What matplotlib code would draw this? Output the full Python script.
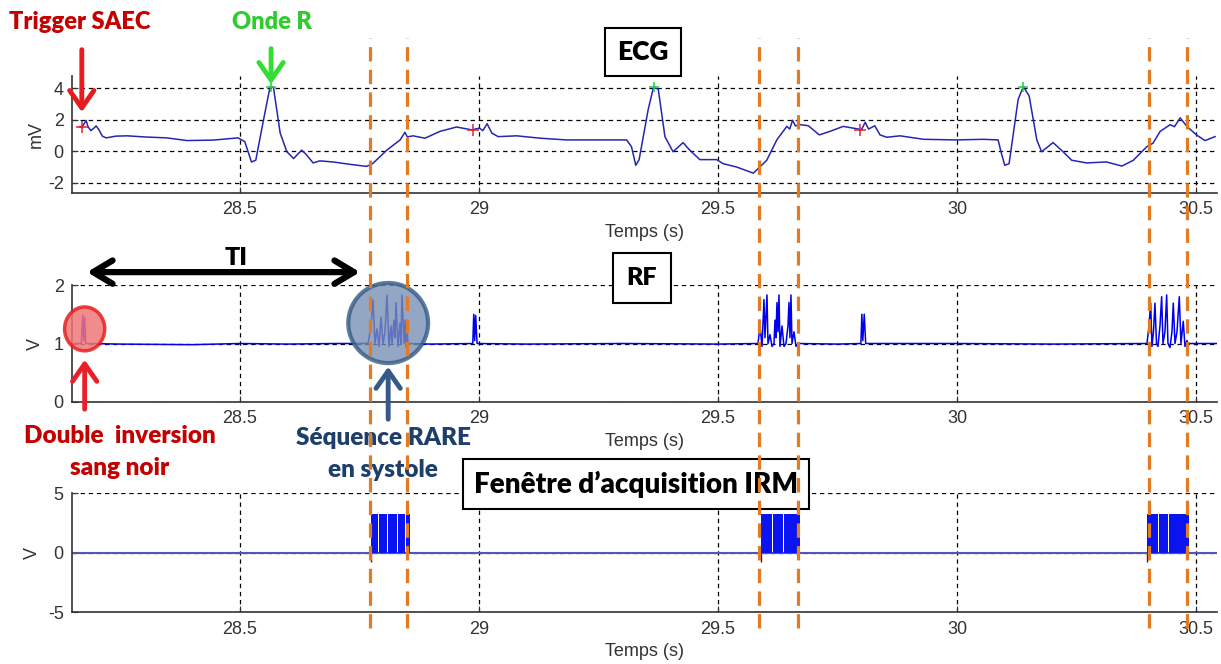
import matplotlib
matplotlib.use("Agg")
import matplotlib.pyplot as plt
from matplotlib.lines import Line2D
from matplotlib.patches import Ellipse
from matplotlib.transforms import blended_transform_factory

plt.rcParams['font.family'] = ['Liberation Sans', 'DejaVu Sans']
plt.rcParams['axes.unicode_minus'] = False

# --- données ---
x_ticks = [28.5, 29, 29.5, 30, 30.5]
x_lim = (28.1485, 30.544)

# ECG (s, mV)
ecg_t = [28.165, 28.169, 28.174, 28.178, 28.182, 28.188, 28.194, 28.199, 28.205, 28.212,
         28.220, 28.240, 28.264, 28.300, 28.347, 28.389, 28.444, 28.496, 28.510, 28.524,
         28.533, 28.548, 28.563, 28.570, 28.584, 28.598, 28.612, 28.629, 28.638, 28.653,
         28.667, 28.695, 28.730, 28.765, 28.778, 28.807, 28.835, 28.840, 28.845, 28.850,
         28.862, 28.887, 28.918, 28.953, 28.985, 29.001, 29.008, 29.017, 29.027, 29.040,
         29.079, 29.128, 29.183, 29.253, 29.309, 29.319, 29.328, 29.335, 29.354, 29.365,
         29.375, 29.389, 29.406, 29.427, 29.441, 29.462, 29.497, 29.511, 29.539, 29.574,
         29.602, 29.623, 29.644, 29.650, 29.656, 29.662, 29.672, 29.689, 29.712, 29.734,
         29.762, 29.794, 29.800, 29.808, 29.815, 29.828, 29.839, 29.853, 29.881, 29.930,
         29.999, 30.055, 30.086, 30.093, 30.100, 30.109, 30.128, 30.139, 30.151, 30.167,
         30.177, 30.201, 30.222, 30.240, 30.271, 30.313, 30.345, 30.369, 30.397, 30.410,
         30.425, 30.446, 30.455, 30.467, 30.481, 30.501, 30.519, 30.540]
ecg_mv = [1.55, 1.50, 1.75, 1.95, 1.55, 1.30, 1.45, 1.60, 1.35, 0.95,
          0.84, 0.95, 0.97, 0.90, 0.84, 0.67, 0.70, 0.84, 0.60, -0.69,
          -0.58, 1.80, 4.10, 4.04, 1.15, -0.04, -0.47, 0.06, -0.20, -0.75,
          -0.62, -0.69, -0.84, -0.97, -0.78, 0.06, 0.71, 0.95, 1.20, 0.90,
          0.97, 0.82, 1.25, 1.53, 1.35, 1.46, 1.30, 1.74, 1.14, 0.92,
          0.97, 0.82, 0.71, 0.71, 0.71, 0.28, -0.90, -0.54, 2.65, 4.04,
          3.94, 0.92, -0.04, 0.54, 0.06, -0.54, -0.54, -0.80, -1.01, -1.40,
          -0.58, 0.71, 1.57, 1.40, 1.96, 1.60, 1.68, 1.61, 1.03, 1.25,
          1.57, 1.40, 1.35, 1.83, 1.40, 1.61, 1.03, 0.88, 0.97, 0.75,
          0.71, 0.75, 0.71, -0.15, -0.90, -0.80, 3.29, 4.10, 3.50, 0.71,
          -0.04, 0.54, -0.04, -0.58, -0.75, -0.69, -0.95, -0.58, 0.28, 0.50,
          1.25, 1.68, 1.55, 2.11, 1.57, 1.03, 0.67, 0.92]

trig_t = [28.169, 28.987, 29.797]
trig_mv = [1.50, 1.35, 1.37]
r_t = [28.565, 29.366, 30.139]
r_mv = [4.08, 4.04, 4.10]

# RF (s, V)
rf_t = [28.150, 28.168, 28.171, 28.173, 28.175, 28.177, 28.179, 28.25, 28.40, 28.50, 28.60, 28.70,
        28.7678, 28.7741, 28.7782, 28.7824, 28.7866, 28.7908, 28.7950, 28.7992, 28.8033, 28.8075,
        28.8117, 28.8159, 28.8180, 28.8222, 28.8243, 28.8264, 28.8305, 28.8347, 28.8368, 28.8389,
        28.8431, 28.8452, 28.8473, 28.8494, 28.8515,
        28.90, 28.987, 28.989, 28.991, 28.993, 28.996, 29.10, 29.30, 29.50,
        29.5837, 29.5879, 29.5921, 29.5962, 29.5983, 29.6025, 29.6046, 29.6088, 29.6130, 29.6172,
        29.6192, 29.6213, 29.6234, 29.6255, 29.6276, 29.6297, 29.6339, 29.6381, 29.6423, 29.6464,
        29.6485, 29.6506, 29.6527, 29.6548, 29.6590, 29.6632, 29.6674,
        29.75, 29.799, 29.801, 29.803, 29.806, 29.809, 30.00, 30.20,
        30.3975, 30.4017, 30.4052, 30.4079, 30.4111, 30.4142, 30.4174, 30.4205, 30.4247, 30.4282,
        30.4310, 30.4351, 30.4387, 30.4414, 30.4456, 30.4498, 30.4525, 30.4561, 30.4603, 30.4651,
        30.4686, 30.4734, 30.4770, 30.4812, 30.4833, 30.544]
rf_v = [1.00, 1.00, 1.49, 1.05, 1.45, 1.00, 1.00, 0.99, 0.98, 1.00, 0.99, 1.00,
        1.00, 1.30, 1.75, 1.00, 1.25, 0.95, 1.45, 1.00, 1.20, 1.83,
        0.95, 1.30, 1.00, 1.40, 1.10, 1.70, 0.95, 1.35, 1.00, 1.83,
        1.00, 1.40, 0.95, 1.25, 1.00,
        0.99, 1.00, 1.50, 1.05, 1.48, 1.00, 0.99, 1.00, 0.99,
        1.00, 1.30, 0.95, 1.75, 1.10, 1.83, 1.00, 1.15, 0.95, 1.00,
        1.40, 1.10, 1.70, 1.20, 1.83, 0.95, 1.30, 0.95, 1.00, 1.30,
        1.70, 1.10, 1.83, 1.00, 1.20, 0.95, 1.00,
        0.99, 1.00, 1.50, 1.05, 1.50, 1.00, 1.00, 0.99,
        1.00, 1.30, 1.69, 0.95, 1.20, 1.69, 1.00, 0.95, 1.30, 1.80,
        1.00, 1.20, 1.83, 1.00, 0.93, 1.20, 1.69, 1.00, 1.20, 1.80,
        1.00, 1.38, 0.95, 1.05, 1.00, 1.00]

# fenêtre d'acquisition : créneaux à 3.3 V (début, fin)
gate_on = [28.774, 28.790, 28.809, 28.830, 28.847,
           29.590, 29.615, 29.638, 29.649, 29.657,
           30.3975, 30.4226, 30.4435, 30.4644]
gate_off = [28.789, 28.808, 28.829, 28.846, 28.856,
            29.614, 29.637, 29.648, 29.656, 29.672,
            30.4215, 30.4425, 30.4635, 30.4854]
gate_level = 3.3
gate_starts = [28.774, 29.590, 30.3975]

# repères orange (début / fin de séquence)
marks_t = [28.772, 28.849, 29.585, 29.667, 30.401, 30.481]

# --- figure ---
W, H = 1221, 664
fig = plt.figure(figsize=(W / 100, H / 100), dpi=100)


def pos(left, top, right, bottom):
    return [left / W, 1 - bottom / H, (right - left) / W, (bottom - top) / H]


ax1 = fig.add_axes(pos(72, 76, 1217, 193))
ax2 = fig.add_axes(pos(72, 285, 1217, 402))
ax3 = fig.add_axes(pos(72, 493.3, 1217, 612.3))

for ax in (ax1, ax2, ax3):
    ax.set_xlim(*x_lim)
    ax.set_xticks(x_ticks)
    ax.set_xticklabels(['28.5', '29', '29.5', '30', '30.5'])
    ax.spines['top'].set_visible(False)
    ax.spines['right'].set_visible(False)
    for s in ('left', 'bottom'):
        ax.spines[s].set_color('#333333')
        ax.spines[s].set_linewidth(1.2)
    ax.tick_params(direction='in', length=4, labelsize=13, colors='#333333', pad=6)
    ax.grid(True, color='black', linestyle=(0, (3.5, 3)), linewidth=0.9)
    ax.set_xlabel('Temps (s)', fontsize=13, color='#333333', labelpad=4)

ax1.set_ylim(-2.66, 4.77)
ax1.set_yticks([-2, 0, 2, 4])
ax1.set_ylabel('mV', fontsize=13, color='#333333', labelpad=2)
ax1.plot(ecg_t, ecg_mv, color='#2626B0', lw=1.1)
ax1.plot(trig_t, trig_mv, '+', color='#E02030', ms=8, mew=1.1)
ax1.plot(r_t, r_mv, '+', color='#22CC44', ms=7, mew=1.1)

ax2.set_ylim(0, 2)
ax2.set_yticks([0, 1, 2])
ax2.set_ylabel('V', fontsize=13, color='#333333', labelpad=7)
ax2.plot(rf_t, rf_v, color='#0000EE', lw=1.1)

ax3.set_ylim(-5, 5)
ax3.set_yticks([-5, 0, 5])
ax3.set_ylabel('V', fontsize=13, color='#333333', labelpad=5)
ax3.axhline(0, color='#5555B5', lw=1.5)
ax3.bar(gate_on, gate_level,
        width=[b - a for a, b in zip(gate_on, gate_off)],
        align='edge', color='#0A14F0', edgecolor='none', zorder=3)
ax3.vlines(gate_starts, -0.8, 0, color='#222222', lw=1)

# lignes orange sur toute la hauteur
tr = blended_transform_factory(ax1.transData, fig.transFigure)
for t in marks_t:
    fig.add_artist(Line2D([t, t], [1 - 628 / H, 1 - 38 / H], transform=tr,
                          color='#E37B22', lw=2.3, dashes=(4.5, 2.6), zorder=5))

bold = dict(family=['Lato', 'DejaVu Sans'], fontweight='heavy')

# annotations ECG
ax1.annotate('', xy=(trig_t[0], 2.3), xytext=(0, 68), textcoords='offset pixels',
             arrowprops=dict(arrowstyle='->,head_length=0.5,head_width=0.35',
                             color='#E81C1C', lw=3.5, mutation_scale=25),
             annotation_clip=False)
fig.text(80 / W, 1 - 22 / H, 'Trigger SAEC', color='#C40000', fontsize=17,
         ha='center', va='center', **bold)
ax1.annotate('', xy=(r_t[0], 4.08), xytext=(0, 41), textcoords='offset pixels',
             arrowprops=dict(arrowstyle='->,head_length=0.5,head_width=0.35',
                             color='#33DD33', lw=3.5, mutation_scale=25),
             annotation_clip=False)
fig.text(272 / W, 1 - 22 / H, 'Onde R', color='#2ECC2E', fontsize=17,
         ha='center', va='center', **bold)

fig.text(643 / W, 1 - 52 / H, 'ECG', fontsize=19, ha='center', va='center',
         bbox=dict(boxstyle='square,pad=0.45', fc='white', ec='black', lw=1.5), **bold)
fig.text(642 / W, 1 - 278 / H, 'RF', fontsize=18, ha='center', va='center',
         bbox=dict(boxstyle='square,pad=0.55', fc='white', ec='black', lw=1.5), **bold)
fig.text(636 / W, 1 - 484 / H, 'Fenêtre d\u2019acquisition IRM', fontsize=20,
         ha='center', va='center',
         bbox=dict(boxstyle='square,pad=0.4', fc='white', ec='black', lw=1.5), **bold)

# TI
ax2.annotate('', xy=(28.180, 2.22), xytext=(28.751, 2.22),
             arrowprops=dict(arrowstyle='<->,head_length=0.5,head_width=0.3',
                             color='black', lw=4.5, mutation_scale=28,
                             shrinkA=0, shrinkB=0),
             annotation_clip=False)
fig.text(236 / W, 1 - 258 / H, 'TI', fontsize=18, ha='center', va='center', **bold)

# double inversion
ax2.add_patch(Ellipse((28.175, 1.25), 0.084, 0.75, fc='#F07878', ec='#E8201C',
                      lw=2.5, alpha=0.85, clip_on=False, zorder=4))
ax2.annotate('', xy=(28.175, 0.77), xytext=(0, -55), textcoords='offset pixels',
             arrowprops=dict(arrowstyle='->,head_length=0.5,head_width=0.35',
                             color='#E8202A', lw=3.5, mutation_scale=25),
             annotation_clip=False)
fig.text(120 / W, 1 - 436 / H, 'Double  inversion', color='#C40000', fontsize=17.5,
         ha='center', va='center', **bold)
fig.text(120 / W, 1 - 468 / H, 'sang noir', color='#C40000', fontsize=17.5,
         ha='center', va='center', **bold)

# séquence RARE
ax2.add_patch(Ellipse((28.810, 1.35), 0.167, 1.37, fc='#7890B4', ec='#355A85',
                      lw=3, alpha=0.8, clip_on=False, zorder=4))
ax2.annotate('', xy=(28.810, 0.65), xytext=(0, -58), textcoords='offset pixels',
             arrowprops=dict(arrowstyle='->,head_length=0.5,head_width=0.35',
                             color='#355A85', lw=3.5, mutation_scale=25),
             annotation_clip=False)
fig.text(383 / W, 1 - 438 / H, 'Séquence RARE', color='#1F3F6B', fontsize=17.5,
         ha='center', va='center', **bold)
fig.text(383 / W, 1 - 470 / H, 'en systole', color='#1F3F6B', fontsize=17.5,
         ha='center', va='center', **bold)

fig.savefig('out.png', dpi=100)
